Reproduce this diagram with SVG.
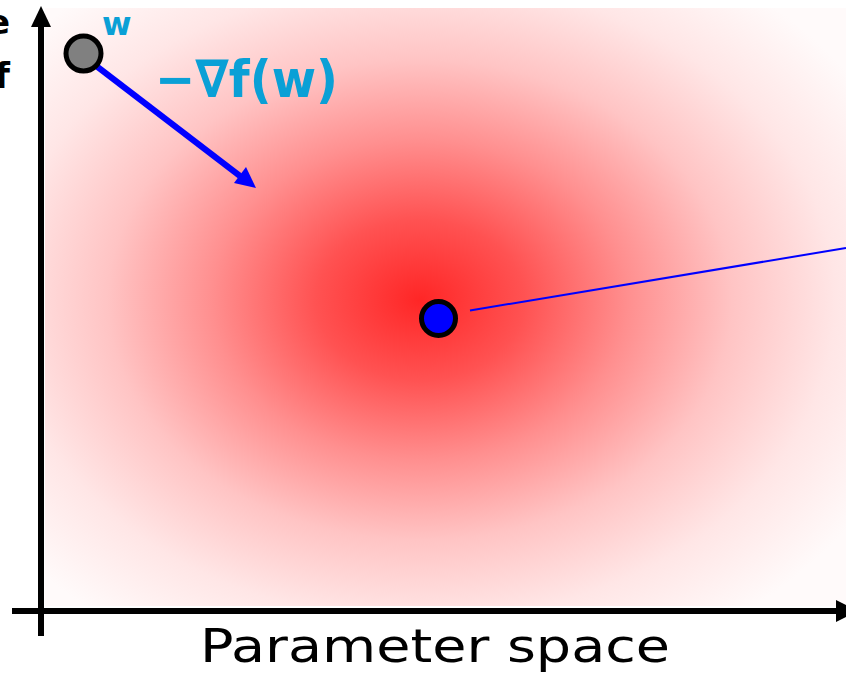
<svg xmlns="http://www.w3.org/2000/svg" width="846" height="673" viewBox="0 0 846 673">
<style>
.axis{stroke:#000;stroke-width:6;fill:none}
.lbl{font-family:"DejaVu Sans","Liberation Sans",sans-serif;fill:#000}
.hand{font-family:"DejaVu Sans","Liberation Sans",sans-serif;font-weight:bold;fill:#0aa0d6}
</style>
<defs>
<radialGradient id="bg" gradientUnits="userSpaceOnUse" cx="0" cy="0" r="1" gradientTransform="translate(420 300) scale(520 400)">
<stop offset="0" stop-color="#ff2626"/>
<stop offset="0.2" stop-color="#ff5252"/>
<stop offset="0.4" stop-color="#ff8f8f"/>
<stop offset="0.6" stop-color="#ffc4c4"/>
<stop offset="0.8" stop-color="#ffe6e6"/>
<stop offset="1" stop-color="#fffafa"/>
</radialGradient>
</defs>
<rect width="846" height="673" fill="#fff"/>
<rect x="45" y="8" width="801" height="598" fill="url(#bg)"/>
<g id="axes">
<line class="axis" x1="41" y1="636" x2="41" y2="22"/>
<polygon points="41,6 31,27 51,27" fill="#000"/>
<line class="axis" x1="12" y1="611" x2="840" y2="611"/>
<polygon points="836,600 836,622 858,611" fill="#000"/>
</g>
<text class="lbl" x="10" y="34" font-size="34" font-weight="bold" text-anchor="end">e</text>
<text class="lbl" x="10" y="88" font-size="36" font-weight="bold" text-anchor="end">f</text>
<text class="lbl" x="200" y="662" font-size="47" textLength="470" lengthAdjust="spacingAndGlyphs">Parameter space</text>
<g id="connectors">
<line x1="95" y1="65" x2="240" y2="176" stroke="#0000ff" stroke-width="6"/>
<polygon points="256,188 234,183 246,167" fill="#0000ff"/>
<line x1="470" y1="310.5" x2="846" y2="248" stroke="#0000ff" stroke-width="2"/>
</g>
<g id="w-node">
<circle cx="83.5" cy="53.5" r="17.5" fill="#808080" stroke="#000" stroke-width="5"/>
<text class="hand" x="102" y="35" font-size="32">w</text>
</g>
<g id="grad-label">
<text class="hand" x="155" y="97" font-size="52" textLength="183" lengthAdjust="spacingAndGlyphs">−∇f(w)</text>
</g>
<g id="min-node">
<circle cx="438.5" cy="318.5" r="17" fill="#0000ff" stroke="#000" stroke-width="5"/>
</g>
</svg>
